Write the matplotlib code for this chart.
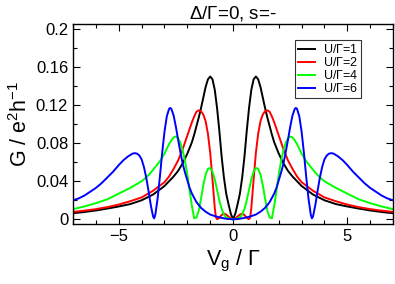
import matplotlib
matplotlib.use("Agg")
import matplotlib.pyplot as plt
import numpy as np
from matplotlib.ticker import MultipleLocator

plt.rcParams['font.family'] = ['Liberation Sans', 'DejaVu Sans']
plt.rcParams['mathtext.fontset'] = 'custom'
plt.rcParams['mathtext.rm'] = 'Liberation Sans'
plt.rcParams['mathtext.it'] = 'Liberation Sans'

# curves are symmetric in Vg, values read for Vg >= 0
vg_u1 = [0, 0.1, 0.2, 0.3, 0.4, 0.5, 0.6, 0.7, 0.8, 0.9, 1.0, 1.1, 1.2, 1.3, 1.4, 1.5,
         1.6, 1.7, 1.8, 2.0, 2.2, 2.4, 2.6, 2.8, 3.0, 3.5, 4.0, 4.5, 5.0, 5.5, 6.0, 6.5, 7.0]
g_u1 = [0, 0.006, 0.016, 0.027, 0.044, 0.066, 0.093, 0.117, 0.136, 0.147, 0.150, 0.147,
        0.139, 0.128, 0.117, 0.107, 0.098, 0.089, 0.081, 0.069, 0.059, 0.051, 0.045, 0.040,
        0.035, 0.026, 0.020, 0.016, 0.0135, 0.0113, 0.0093, 0.0077, 0.0064]

vg_u2 = [0, 0.1, 0.2, 0.3, 0.4, 0.5, 0.6, 0.7, 0.75, 0.8, 0.9, 1.0, 1.1, 1.2, 1.3, 1.4,
         1.5, 1.6, 1.7, 1.8, 2.0, 2.2, 2.4, 2.6, 2.8, 3.0, 3.5, 4.0, 4.5, 5.0, 5.5, 6.0, 6.5, 7.0]
g_u2 = [0, 0.001, 0.003, 0.005, 0.006, 0.0045, 0.0015, 0.0002, 0.002, 0.012, 0.042, 0.070,
        0.090, 0.103, 0.110, 0.1135, 0.1145, 0.113, 0.108, 0.102, 0.088, 0.074, 0.062, 0.053,
        0.045, 0.039, 0.030, 0.023, 0.019, 0.0155, 0.0128, 0.0107, 0.0091, 0.0078]

vg_u4 = [0, 0.1, 0.2, 0.3, 0.4, 0.5, 0.6, 0.7, 0.8, 0.9, 1.0, 1.1, 1.2, 1.3, 1.4, 1.5,
         1.6, 1.7, 1.8, 1.9, 2.0, 2.1, 2.2, 2.3, 2.4, 2.5, 2.6, 2.7, 2.8, 2.9, 3.0, 3.2,
         3.4, 3.6, 3.8, 4.0, 4.5, 5.0, 5.5, 6.0, 6.5, 7.0]
g_u4 = [0, 0.0003, 0.001, 0.002, 0.005, 0.011, 0.020, 0.031, 0.042, 0.050, 0.054, 0.053,
        0.047, 0.036, 0.022, 0.009, 0.002, 0.001, 0.014, 0.030, 0.047, 0.061, 0.072, 0.080,
        0.085, 0.087, 0.086, 0.083, 0.079, 0.074, 0.069, 0.061, 0.055, 0.049, 0.044, 0.040,
        0.033, 0.027, 0.021, 0.017, 0.0135, 0.0107]

vg_u6 = [0, 0.25, 0.5, 0.75, 1.0, 1.2, 1.4, 1.6, 1.8, 1.9, 2.0, 2.1, 2.2, 2.3, 2.4, 2.5,
         2.6, 2.7, 2.75, 2.8, 2.9, 3.0, 3.1, 3.2, 3.3, 3.4, 3.45, 3.5, 3.6, 3.7, 3.8, 3.9,
         4.0, 4.1, 4.2, 4.3, 4.4, 4.6, 4.8, 5.0, 5.25, 5.5, 5.75, 6.0, 6.25, 6.5, 6.75, 7.0]
g_u6 = [0, 0.0004, 0.0015, 0.003, 0.005, 0.008, 0.012, 0.018, 0.027, 0.033, 0.041, 0.049,
        0.058, 0.070, 0.083, 0.097, 0.109, 0.116, 0.117, 0.116, 0.108, 0.092, 0.070, 0.045,
        0.022, 0.005, 0.001, 0.003, 0.015, 0.030, 0.044, 0.055, 0.063, 0.067, 0.069, 0.0695,
        0.069, 0.066, 0.062, 0.057, 0.050, 0.044, 0.038, 0.033, 0.029, 0.025, 0.022, 0.020]

labels = [r'U/$\Gamma$=1', r'U/$\Gamma$=2', r'U/$\Gamma$=4', r'U/$\Gamma$=6']
colors = ['#000000', '#ff0000', '#00ff00', '#0000ff']


def mirror(x, y):
    x = np.asarray(x, dtype=float)
    y = np.asarray(y, dtype=float)
    return np.concatenate([-x[::-1], x[1:]]), np.concatenate([y[::-1], y[1:]])


fig = plt.figure(figsize=(3.95, 2.84), dpi=100)
ax = fig.add_axes([0.185, 0.211, 0.81, 0.704])

series = [(vg_u1, g_u1), (vg_u2, g_u2), (vg_u4, g_u4), (vg_u6, g_u6)]
for (x, y), c, lab in zip(series, colors, labels):
    xx, yy = mirror(x, y)
    ax.plot(xx, yy, color=c, lw=1.4, label=lab)

ax.set_xlim(-7, 7)
ax.set_ylim(-0.005, 0.205)
ax.set_xticks([-5, 0, 5])
ax.set_yticks([0, 0.04, 0.08, 0.12, 0.16, 0.2])
ax.set_yticklabels(['0', '0.04', '0.08', '0.12', '0.16', '0.2'])
ax.xaxis.set_minor_locator(MultipleLocator(1))
ax.yaxis.set_minor_locator(MultipleLocator(0.02))
ax.tick_params(which='both', direction='in', top=True, right=True, labelsize=12, width=0.8)
ax.tick_params(which='major', length=5)
ax.tick_params(which='minor', length=3)
for s in ax.spines.values():
    s.set_linewidth(1.0)

ax.set_xlabel(r'V$_\mathrm{g}$ / $\Gamma$', fontsize=15.5, labelpad=3)
ax.set_ylabel(r'G / e$^\mathrm{2}$h$^\mathrm{-1}$', fontsize=15.5, labelpad=3)
ax.set_title(r'$\Delta$/$\Gamma$=0, s=-', fontsize=13.5, pad=4)

leg = ax.legend(loc='upper right', bbox_to_anchor=(0.9, 0.92), fontsize=9, frameon=True,
                fancybox=False, edgecolor='black', handlelength=1.4, handletextpad=0.6,
                borderpad=0.25, labelspacing=0.0, borderaxespad=0)
leg.get_frame().set_linewidth(0.8)

fig.savefig('out.png', dpi=100)
